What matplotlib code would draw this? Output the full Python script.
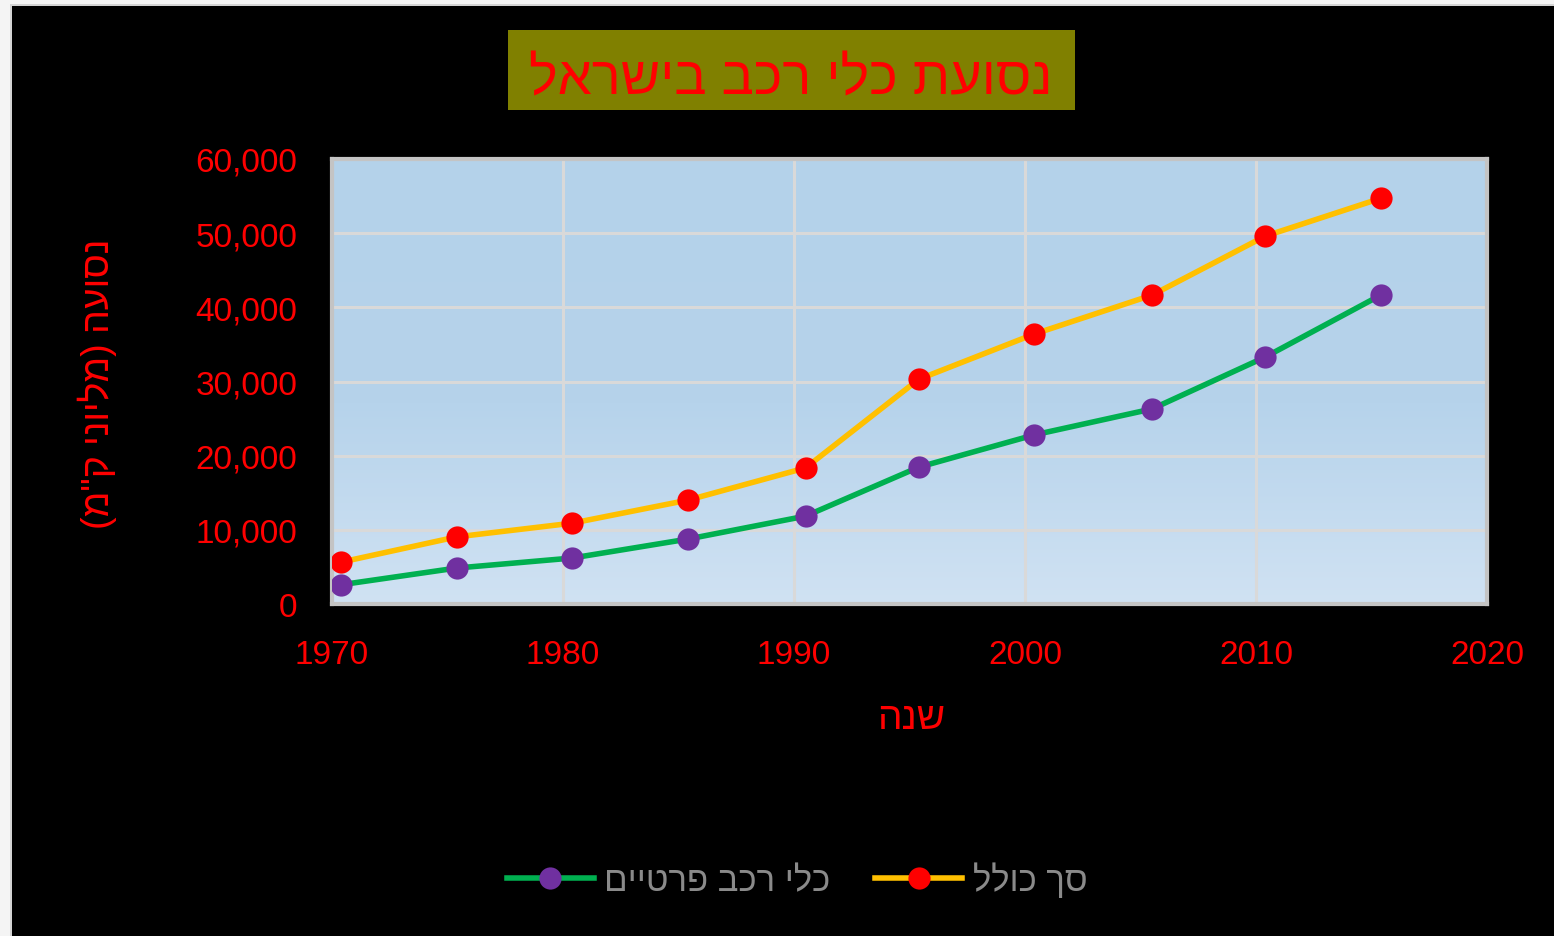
import numpy as np
import matplotlib
matplotlib.use("Agg")
import matplotlib.pyplot as plt
from matplotlib.colors import LinearSegmentedColormap
from matplotlib.patches import Rectangle
from matplotlib.ticker import FuncFormatter

plt.rcParams["font.family"] = ["Liberation Sans", "DejaVu Sans"]

# נתונים
shanim = [1970.4, 1975.4, 1980.4, 1985.4, 1990.5, 1995.4, 2000.4, 2005.5, 2010.4, 2015.4]
pratiyim = [2600, 4850, 6200, 8750, 11850, 18450, 22800, 26300, 33300, 41650]
sach_kolel = [5650, 9050, 10900, 14000, 18350, 30300, 36400, 41650, 49600, 54700]

KOTERET = "נסועת כלי רכב בישראל"
TAVIT_Y = 'נסועה (מליוני ק"מ)'
TAVIT_X = "שנה"
MEKRA = ["כלי רכב פרטיים", "סך כולל"]

ADOM = "#FF0000"


def heb(s):
    # matplotlib לא מטפל בכיווניות - הופכים את הסדר ידנית
    s = s.replace("(", "\0").replace(")", "(").replace("\0", ")")
    return s[::-1]


W, H = 1554, 937
fig = plt.figure(figsize=(W / 100, H / 100), dpi=100, facecolor="black")

# מסגרת חלון
fig.patches.append(Rectangle((0, 1 - 5 / H), 1, 5 / H, transform=fig.transFigure,
                             facecolor="#f4f4f4", edgecolor="none"))
fig.patches.append(Rectangle((0, 1 - 7 / H), 1, 2 / H, transform=fig.transFigure,
                             facecolor="#d4d4d4", edgecolor="none"))
fig.patches.append(Rectangle((0, 0), 10 / W, 1, transform=fig.transFigure,
                             facecolor="#f4f4f4", edgecolor="none"))
fig.patches.append(Rectangle((10 / W, 0), 2 / W, 1 - 5 / H, transform=fig.transFigure,
                             facecolor="#d4d4d4", edgecolor="none"))

ax = fig.add_axes([332 / W, 1 - 605 / H, (1487 - 332) / W, (605 - 160) / H])

# רקע מדורג - כהה למעלה, בהיר למטה
cmap = LinearSegmentedColormap.from_list(
    "rekaa", [(0, "#b4d2ea"), (0.55, "#b6d3eb"), (1, "#d0e2f3")])
grad = np.linspace(0, 1, 256).reshape(-1, 1)
ax.imshow(grad, cmap=cmap, aspect="auto", extent=[1970, 2020, 0, 60000],
          origin="upper", zorder=0, interpolation="bilinear")
ax.set_xlim(1970, 2020)
ax.set_ylim(0, 60000)

ax.set_axisbelow(True)
ax.grid(True, color="#d9d9d9", linewidth=2.2)
for sp in ax.spines.values():
    sp.set_color("#c4c4c4")
    sp.set_linewidth(3)

ax.set_xticks(range(1970, 2021, 10))
ax.set_yticks(range(0, 60001, 10000))
ax.yaxis.set_major_formatter(FuncFormatter(lambda v, p: f"{int(v):,}"))
ax.tick_params(axis="both", length=0, labelcolor=ADOM, labelsize=24)
ax.tick_params(axis="x", pad=25)
ax.tick_params(axis="y", pad=25)

ax.plot(shanim, pratiyim, color="#00B050", linewidth=4, marker="o", markersize=16,
        markerfacecolor="#7030A0", markeredgewidth=0, label=heb(MEKRA[0]), zorder=3)
ax.plot(shanim, sach_kolel, color="#FFC000", linewidth=4, marker="o", markersize=16,
        markerfacecolor=ADOM, markeredgewidth=0, label=heb(MEKRA[1]), zorder=3)

# כותרת
fig.patches.append(Rectangle((508 / W, 1 - 111 / H), (1075 - 508) / W, 80 / H,
                             transform=fig.transFigure, facecolor="#808000",
                             edgecolor="none"))
fig.text(791 / W, 1 - 80 / H, heb(KOTERET), color=ADOM, fontsize=39,
         ha="center", va="center")

fig.text(97 / W, 1 - 384 / H, heb(TAVIT_Y), color=ADOM, fontsize=27,
         rotation=90, ha="center", va="center")
fig.text(911 / W, 1 - 719 / H, heb(TAVIT_X), color=ADOM, fontsize=28,
         ha="center", va="center")

leg = fig.legend(loc="center", bbox_to_anchor=(797 / W, 1 - 880 / H), ncol=2,
                 frameon=False, fontsize=25, handlelength=2.5, handletextpad=0.3,
                 columnspacing=1.3, numpoints=1)
for t in leg.get_texts():
    t.set_color("#8a8a8a")

fig.savefig("out.png", dpi=100, facecolor=fig.get_facecolor())
